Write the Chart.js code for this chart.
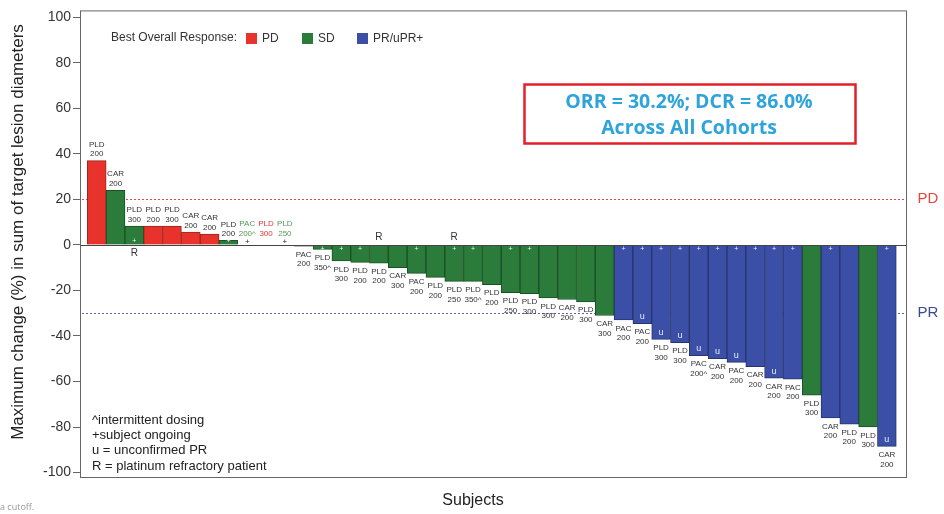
<!DOCTYPE html>
<html>
<head>
<meta charset="utf-8">
<title>Waterfall plot</title>
<script src="https://cdn.jsdelivr.net/npm/chart.js@4.4.1/dist/chart.umd.min.js"></script>
<style>
    html, body { margin: 0; padding: 0; background: #fff; }
    #wrap { position: relative; width: 944px; height: 514px; }
</style>
</head>
<body>
<div id="wrap"><canvas id="waterfall"></canvas></div>
<script>
// one entry per subject, sorted as in the waterfall
const drugs = ['PLD', 'CAR', 'PLD', 'PLD', 'PLD', 'CAR', 'CAR', 'PLD', 'PAC', 'PLD', 'PLD',
    'PAC', 'PLD', 'PLD', 'PLD', 'PLD', 'CAR', 'PAC', 'PLD', 'PLD', 'PLD', 'PLD', 'PLD',
    'PLD', 'PLD', 'CAR', 'PLD', 'CAR', 'PAC', 'PAC', 'PLD', 'PLD', 'PAC', 'CAR', 'PAC',
    'CAR', 'CAR', 'PAC', 'PLD', 'CAR', 'PLD', 'PLD', 'CAR'];
const doses = ['200', '200', '300', '200', '300', '200', '200', '200', '200^', '300', '250',
    '200', '350^', '300', '200', '200', '300', '200', '200', '250', '350^', '200', '250',
    '300', '300', '200', '300', '300', '200', '200', '300', '300', '200^', '200', '200',
    '200', '200', '200', '300', '200', '200', '300', '200'];
const change = [37, 24, 8.3, 8.3, 8.3, 5.6, 4.8, 2, 0, 0, 0,
    -0.6, -2, -7, -7.7, -8, -10, -12.5, -14.3, -16, -16, -17.5, -21,
    -21.4, -23.3, -24, -25, -31, -33, -34.6, -41.5, -43, -48.7, -50, -51.6,
    -53.5, -58.5, -59, -66, -76, -78.7, -80, -88.5];
const response = ['PD', 'SD', 'SD', 'PD', 'PD', 'PD', 'PD', 'SD', 'SD', 'PD', 'SD',
    'SD', 'SD', 'SD', 'SD', 'SD', 'SD', 'SD', 'SD', 'SD', 'SD', 'SD', 'SD',
    'SD', 'SD', 'SD', 'SD', 'SD', 'PR', 'PR', 'PR', 'PR', 'PR', 'PR', 'PR',
    'PR', 'PR', 'PR', 'SD', 'PR', 'PR', 'SD', 'PR'];
const ongoing = [0, 0, 1, 0, 0, 0, 0, 1, 1, 0, 1,
    0, 1, 1, 1, 0, 0, 1, 0, 1, 1, 0, 1,
    1, 0, 0, 0, 0, 1, 1, 1, 1, 1, 1, 1,
    1, 1, 1, 0, 1, 0, 0, 1];
const unconfirmed = [0, 0, 0, 0, 0, 0, 0, 0, 0, 0, 0,
    0, 0, 0, 0, 0, 0, 0, 0, 0, 0, 0, 0,
    0, 0, 0, 0, 0, 0, 1, 1, 1, 1, 1, 1,
    0, 1, 0, 0, 0, 0, 0, 1];
const refractory = [0, 0, 1, 0, 0, 0, 0, 0, 0, 0, 0,
    0, 0, 0, 0, 1, 0, 0, 0, 1, 0, 0, 0,
    0, 0, 0, 0, 0, 0, 0, 0, 0, 0, 0, 0,
    0, 0, 0, 0, 0, 0, 0, 0];

const yTicks = [-100, -80, -60, -40, -20, 0, 20, 40, 60, 80, 100];
const yMin = -102.4;
const yMax = 103;
const pdCutoff = 20;
const prCutoff = -30;

const responseKeys = ['PD', 'SD', 'PR'];
const responseNames = ['PD', 'SD', 'PR/uPR+'];
const fill = { PD: '#e8332c', SD: '#2b7b3a', PR: '#3b4fa6' };
const edge = { PD: '#9a2520', SD: '#1c4f26', PR: '#27346e' };
const zeroLabel = { PD: '#e23a33', SD: '#4f9a55', PR: '#3b4fa6' };

const summaryLines = ['ORR = 30.2%; DCR = 86.0%', 'Across All Cohorts'];
const footnotes = ['^intermittent dosing', '+subject ongoing', 'u = unconfirmed PR', 'R = platinum refractory patient'];

const FONT = '"Liberation Sans", Arial, sans-serif';

function text(ctx, str, x, y, font, color, align) {
    ctx.font = font;
    ctx.fillStyle = color;
    ctx.textAlign = align || 'center';
    ctx.textBaseline = 'middle';
    ctx.fillText(str, x, y);
}

// dotted reference line drawn as short dashes
function dashed(ctx, x0, x1, y, color) {
    ctx.fillStyle = color;
    for (let x = x0; x < x1; x += 4) {
        ctx.fillRect(x, y, 2, 1);
    }
}

const annotations = {
    id: 'annotations',
    beforeDatasetsDraw(chart) {
        const { ctx, chartArea: a, scales: { y } } = chart;
        ctx.save();
        dashed(ctx, a.left + 2, a.right - 2, Math.round(y.getPixelForValue(pdCutoff)), '#f0453d');
        dashed(ctx, a.left + 2, a.right - 2, Math.round(y.getPixelForValue(prCutoff)), '#5d6aa0');
        ctx.restore();
    },
    afterDatasetsDraw(chart) {
        const { ctx, chartArea: a, scales: { y } } = chart;
        const zeroY = y.getPixelForValue(0);
        const meta = chart.getDatasetMeta(0);
        ctx.save();

        // zero line
        ctx.strokeStyle = '#444';
        ctx.lineWidth = 1;
        ctx.beginPath();
        ctx.moveTo(a.left, Math.round(zeroY) + 0.5);
        ctx.lineTo(a.right, Math.round(zeroY) + 0.5);
        ctx.stroke();

        meta.data.forEach((bar, i) => {
            const v = change[i];
            const top = Math.min(bar.y, bar.base);
            const bottom = Math.max(bar.y, bar.base);
            const small = '8px ' + FONT;
            if (v >= 0) {
                const lift = v === 0 ? 5 : 0;
                const c = v === 0 ? zeroLabel[response[i]] : '#333';
                text(ctx, drugs[i], bar.x, top - 16 - lift, small, c);
                text(ctx, doses[i], bar.x, top - 6.5 - lift, small, c);
            } else {
                text(ctx, drugs[i], bar.x, bottom + 8.5, small, '#333');
                text(ctx, doses[i], bar.x, bottom + 18, small, '#333');
            }
            if (ongoing[i]) {
                if (v === 0) text(ctx, '+', bar.x, zeroY - 3, '8px ' + FONT, '#222');
                else text(ctx, '+', bar.x, v > 0 ? zeroY - 4 : zeroY + 4, '7px ' + FONT, '#eef');
            }
            if (unconfirmed[i]) {
                text(ctx, 'u', bar.x, bottom - 7, '9px ' + FONT, '#e8ecff');
            }
            if (refractory[i]) {
                text(ctx, 'R', bar.x, v > 0 ? zeroY + 8 : zeroY - 8, '10px ' + FONT, '#333');
            }
        });

        // legend
        text(ctx, 'Best Overall Response:', 111, 38, '12px ' + FONT, '#333', 'left');
        const legendX = [246, 302, 357];
        responseKeys.forEach((k, j) => {
            ctx.fillStyle = fill[k];
            ctx.fillRect(legendX[j], 33, 11, 11);
            text(ctx, responseNames[j], legendX[j] + 16, 38.5, '12px ' + FONT, '#333', 'left');
        });

        // summary box
        ctx.strokeStyle = '#e3202a';
        ctx.lineWidth = 2.5;
        ctx.strokeRect(524.5, 84.5, 331, 59);
        text(ctx, summaryLines[0], 689, 102, 'bold 19.5px "Open Sans", sans-serif', '#2fa3dc');
        text(ctx, summaryLines[1], 689, 128, 'bold 19.5px "Open Sans", sans-serif', '#2fa3dc');

        // cutoff labels
        text(ctx, 'PD', 928, y.getPixelForValue(pdCutoff), '15px ' + FONT, '#e5463d');
        text(ctx, 'PR', 928, y.getPixelForValue(prCutoff), '15px ' + FONT, '#3b4a8e');

        // footnotes
        footnotes.forEach((f, j) => {
            text(ctx, f, 92, 420 + j * 15.4, '13px ' + FONT, '#222', 'left');
        });
        ctx.restore();
    },
    afterDraw(chart) {
        const { ctx, chartArea: a } = chart;
        ctx.save();
        ctx.strokeStyle = '#666';
        ctx.lineWidth = 1;
        ctx.strokeRect(a.left + 0.5, a.top + 0.5, a.right - a.left - 1, a.bottom - a.top - 1);

        text(ctx, 'Subjects', 473, 501, '16px ' + FONT, '#222');
        text(ctx, 'a cutoff.', 0, 507, '9px "Open Sans", sans-serif', '#999', 'left');

        ctx.translate(18, 232);
        ctx.rotate(-Math.PI / 2);
        text(ctx, 'Maximum change (%) in sum of target lesion diameters', 0, 0, '17px ' + FONT, '#222');
        ctx.restore();
    }
};

const ctx = document.getElementById('waterfall').getContext('2d');
new Chart(ctx, {
    type: 'bar',
    data: {
        datasets: [{
            data: change.map((v, i) => ({ x: i + 1, y: v })),
            backgroundColor: response.map(r => fill[r]),
            borderColor: response.map(r => edge[r]),
            borderWidth: 1,
            barPercentage: 1,
            categoryPercentage: 1
        }]
    },
    options: {
        responsive: true,
        maintainAspectRatio: false,
        animation: false,
        layout: { padding: { left: 0, right: 37, top: 7, bottom: 36 } },
        plugins: { legend: { display: false }, tooltip: { enabled: false } },
        scales: {
            x: { type: 'linear', min: 0.11, max: 44.07, offset: false, display: false },
            y: {
                min: yMin,
                max: yMax,
                afterBuildTicks: s => { s.ticks = yTicks.map(v => ({ value: v })); },
                afterFit: s => { s.width = 80; },
                grid: { drawOnChartArea: false, drawTicks: true, tickLength: 7, color: '#666' },
                border: { display: false },
                ticks: { padding: 2, color: '#333', font: { size: 14, family: FONT } }
            }
        }
    },
    plugins: [annotations]
});
</script>
</body>
</html>
